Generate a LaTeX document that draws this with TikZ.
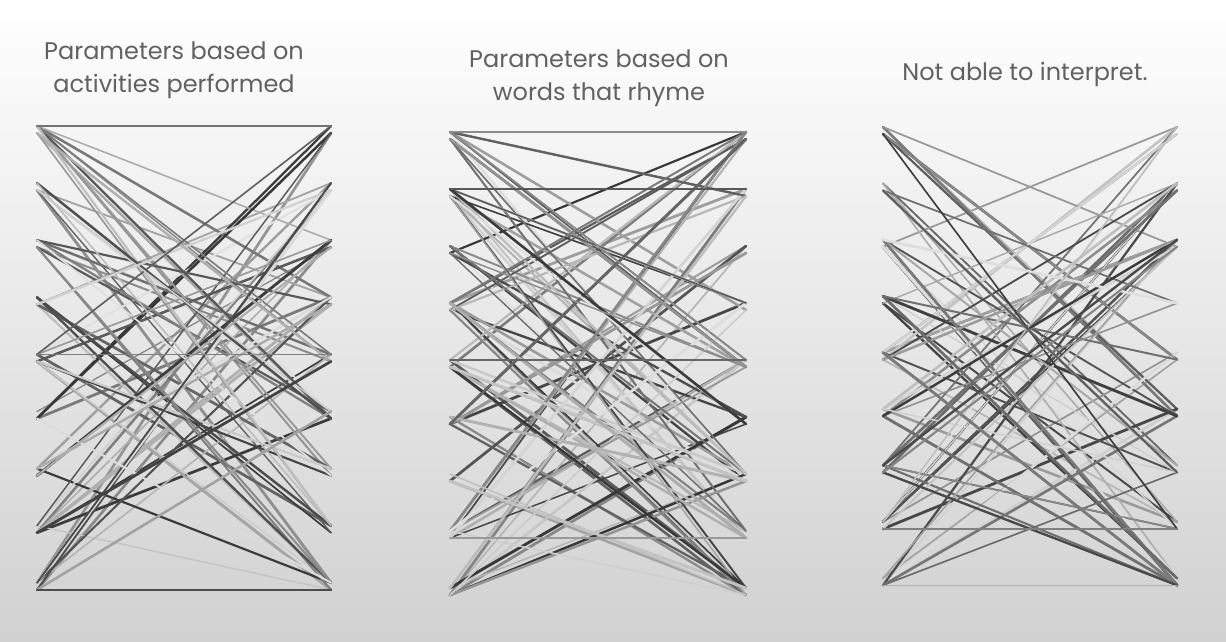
\documentclass[tikz,border=0pt]{standalone}
\usepackage{fontspec}
\setmainfont{Poppins}
\newcommand\mkpanel[5]{%
  \foreach \k in {0,...,8}{%
    \foreach \j in {0,1}{%
      \pgfmathtruncatemacro\n{2*\k+\j}%
      \coordinate (#1L\n) at (#2, {#4+\k*#5+\j*7});%
      \coordinate (#1R\n) at (#3, {#4+\k*#5+\j*7});%
    }}}
\newcommand\mkedges[2]{%
  \foreach \e in {1,...,#2}{%
    \pgfmathrandominteger\a{0}{17}%
    \pgfmathrandominteger\o{3}{14}%
    \pgfmathtruncatemacro\b{mod(\a+\o,18)}%
    \pgfmathrandominteger\g{12}{78}%
    \pgfmathsetmacro\w{1.3+1.6*rnd}%
    \draw[conn, line width=\w pt, draw=black!\g] (#1L\a) -- (#1R\b);
  }}
\begin{document}
\begin{tikzpicture}[x=1pt,y=-1pt,
  title/.style={text=black!62, font=\fontsize{24}{33}\selectfont, align=center, inner sep=0pt},
  conn/.style={line cap=round}]
\useasboundingbox (0,0) rectangle (1226,641);
\shade[top color=white, middle color=white, bottom color=black!18] (0,0) rectangle (1226,641);

\node[title] (t1) at (174,70) {Parameters based on\\activities performed};
\node[title] (t2) at (599,78) {Parameters based on\\words that rhyme};
\node[title] (t3) at (1025,74) {Not able to interpret.};

\mkpanel{A}{37}{331}{126}{57.1}
\mkpanel{B}{450}{746}{132}{57}
\mkpanel{C}{883}{1177}{127}{56.4}

\pgfmathsetseed{4711}
\mkedges{A}{80}
\pgfmathsetseed{1234}
\mkedges{B}{105}
\pgfmathsetseed{987}
\mkedges{C}{85}

\draw[conn, line width=1.8pt, draw=black!55] (AL0) -- (AR0);
\draw[conn, line width=2.2pt, draw=black!70] (AL17) -- (AR17);
\draw[conn, line width=1.6pt, draw=black!50] (AL8) -- (AR8);
\draw[conn, line width=1.6pt, draw=black!45] (BL0) -- (BR0);
\draw[conn, line width=2pt, draw=black!65] (BL2) -- (BR2);
\draw[conn, line width=1.8pt, draw=black!60] (BL8) -- (BR8);
\draw[conn, line width=1.5pt, draw=black!40] (BL15) -- (BR15);
\draw[conn, line width=1.6pt, draw=black!50] (CL15) -- (CR15);
\draw[conn, line width=1.4pt, draw=black!30] (CL17) -- (CR17);
\end{tikzpicture}
\end{document}
